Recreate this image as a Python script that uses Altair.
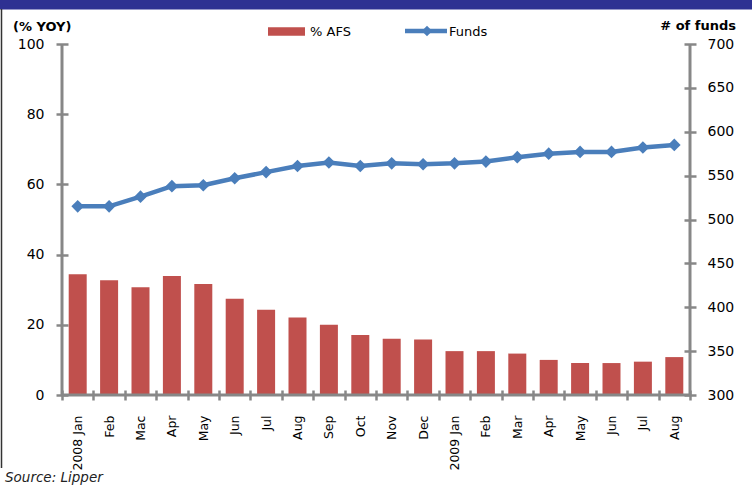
import altair as alt
import pandas as pd

# ---- data ----
labels = ["2008 Jan", "Feb", "Mac", "Apr", "May", "Jun", "Jul", "Aug", "Sep", "Oct",
          "Nov", "Dec", "2009 Jan", "Feb", "Mar", "Apr", "May", "Jun", "Jul", "Aug"]
afs = [34.4, 32.7, 30.7, 33.9, 31.6, 27.4, 24.3, 22.1, 20.0, 17.1,
       16.0, 15.8, 12.5, 12.5, 11.8, 10.0, 9.1, 9.1, 9.5, 10.8]
funds = [515, 515, 526, 538, 539, 547, 554, 561, 565, 561,
         564, 563, 564, 566, 571, 575, 577, 577, 582, 585]
left_ticks = [0, 20, 40, 60, 80, 100]
right_ticks = [300, 350, 400, 450, 500, 550, 600, 650, 700]

keys = [f"{i:02d}" for i in range(len(labels))]
df = pd.DataFrame({"key": keys, "label": labels, "afs": afs, "funds": funds})

W, H = 628, 351
AXIS_GRAY = "#878787"
BAR = "#C0504D"
LINE = "#4A7EBB"

label_expr = "[" + ",".join(f"'{l}'" for l in labels) + "][toNumber(datum.value)]"

x_enc = alt.X(
    "key:N", sort=keys,
    scale=alt.Scale(paddingInner=0, paddingOuter=0),
    axis=alt.Axis(
        title=None, labelExpr=label_expr, labelAngle=270, labelAlign="right",
        labelBaseline="middle", labelPadding=15, labelFont="DejaVu Sans",
        labelFontSize=12.5, labelColor="#000000", domain=False, offset=-5,
        tickSize=10, tickWidth=2.5, tickColor=AXIS_GRAY, tickBand="extent",
        grid=False,
    ),
)

bars = alt.Chart(df).mark_bar(color=BAR, size=18).encode(
    x=x_enc,
    y=alt.Y(
        "afs:Q", scale=alt.Scale(domain=[0, 100], nice=False, zero=True),
        axis=alt.Axis(
            title=None, values=left_ticks, orient="left", domain=False, offset=-6,
            tickSize=12, tickWidth=2.5, tickColor=AXIS_GRAY, labelPadding=12,
            labelFont="DejaVu Sans", labelFontSize=14, labelColor="#000000", grid=False,
        ),
    ),
)

right_axis = alt.Axis(
    title=None, values=right_ticks, orient="right", domain=False, offset=-6,
    tickSize=12, tickWidth=2.5, tickColor=AXIS_GRAY, labelPadding=11,
    labelFont="DejaVu Sans", labelFontSize=14, labelColor="#000000", grid=False,
)
y_right = alt.Y("funds:Q", scale=alt.Scale(domain=[300, 700], nice=False, zero=False),
                axis=right_axis)

line = alt.Chart(df).mark_line(color=LINE, strokeWidth=4.5).encode(x=x_enc, y=y_right)
pts = alt.Chart(df).mark_point(shape="diamond", filled=True, size=160, color=LINE,
                               opacity=1).encode(x=x_enc, y=y_right)
funds_layer = alt.layer(line, pts)

one = alt.Data(values=[{"a": 1}])

# axis lines
axis_lines = alt.layer(
    alt.Chart(one).mark_rule(color=AXIS_GRAY, strokeWidth=3).encode(
        x=alt.value(0), y=alt.value(0), y2=alt.value(H)),
    alt.Chart(one).mark_rule(color=AXIS_GRAY, strokeWidth=3).encode(
        x=alt.value(W), y=alt.value(0), y2=alt.value(H)),
    alt.Chart(one).mark_rule(color=AXIS_GRAY, strokeWidth=3).encode(
        x=alt.value(0), x2=alt.value(W), y=alt.value(H)),
)

# frame decorations
top_bar = alt.Chart(one).mark_rect(color="#2E3192").encode(
    x=alt.value(-62), x2=alt.value(W + 62), y=alt.value(-44), y2=alt.value(-34.5))
left_border = alt.Chart(one).mark_rule(color="#333333", strokeWidth=1.5).encode(
    x=alt.value(-60.5), y=alt.value(-35), y2=alt.value(424))

title_left = alt.Chart(one).mark_text(
    text="(% YOY)", font="DejaVu Sans", fontWeight="bold", fontSize=13,
    align="left", baseline="alphabetic", color="#000000").encode(
    x=alt.value(-49), y=alt.value(-13))
title_right = alt.Chart(one).mark_text(
    text="# of funds", font="DejaVu Sans", fontWeight="bold", fontSize=13,
    align="right", baseline="alphabetic", color="#000000").encode(
    x=alt.value(674), y=alt.value(-14))

leg_rect = alt.Chart(one).mark_rect(color=BAR).encode(
    x=alt.value(206), x2=alt.value(243), y=alt.value(-16.7), y2=alt.value(-8.3))
leg_rect_text = alt.Chart(one).mark_text(
    text="% AFS", font="DejaVu Sans", fontSize=13, align="left", baseline="middle",
    color="#000000").encode(x=alt.value(248), y=alt.value(-12.5))
leg_line = alt.Chart(one).mark_rule(color=LINE, strokeWidth=4.5).encode(
    x=alt.value(343), x2=alt.value(385), y=alt.value(-13))
leg_pt = alt.Chart(one).mark_point(shape="diamond", filled=True, size=110, color=LINE,
                                   opacity=1).encode(x=alt.value(365), y=alt.value(-13))
leg_line_text = alt.Chart(one).mark_text(
    text="Funds", font="DejaVu Sans", fontSize=13, align="left", baseline="middle",
    color="#000000").encode(x=alt.value(387), y=alt.value(-12.5))

source = alt.Chart(one).mark_text(
    text="Source: Lipper", font="DejaVu Sans", fontStyle="italic", fontSize=13.5,
    align="left", baseline="alphabetic", color="#222222").encode(
    x=alt.value(-57), y=alt.value(438))

chart = alt.layer(
    bars, funds_layer, axis_lines, top_bar, left_border, title_left, title_right,
    leg_rect, leg_rect_text, leg_line, leg_pt, leg_line_text, source,
).resolve_scale(y="independent").properties(
    width=W, height=H,
    autosize=alt.AutoSizeParams(type="none"),
    padding={"left": 62, "top": 44, "right": 62, "bottom": 90},
    background="#ffffff",
).configure_view(stroke=None)

chart.save("out.html", embed_options={"renderer": "svg", "actions": False})
